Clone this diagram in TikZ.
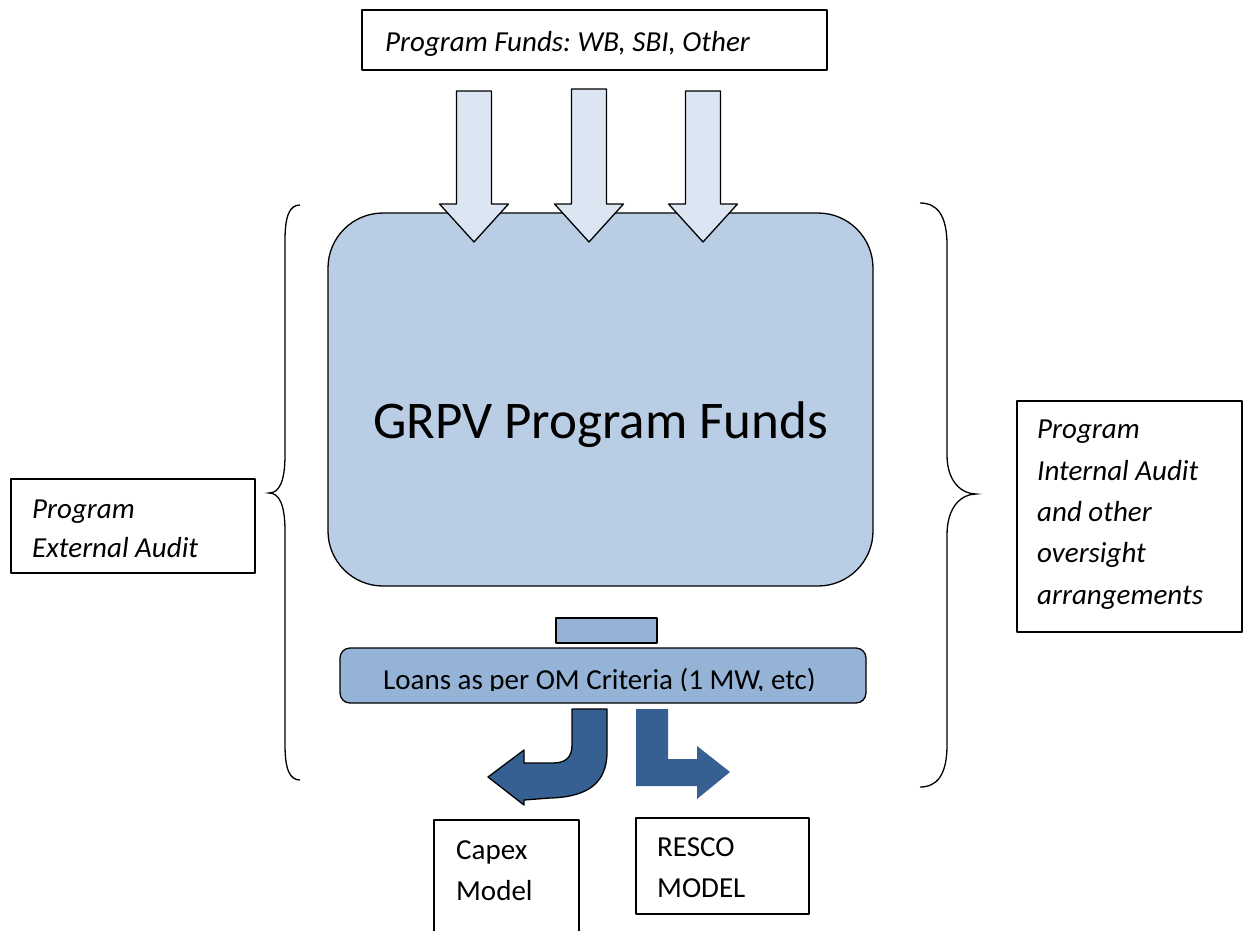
\documentclass[tikz,border=0pt]{standalone}
\usepackage{fontspec}
\setmainfont{Carlito}
\frenchspacing
\definecolor{fundblue}{HTML}{B9CDE5}
\definecolor{inflow}{HTML}{DCE6F2}
\definecolor{loanblue}{HTML}{95B3D7}
\definecolor{outflow}{HTML}{376092}
\tikzset{
  edge/.style={draw=black, line width=1.3pt, line join=round},
  panel/.style={edge, fill=white, rectangle, inner sep=0pt, outer sep=0pt, anchor=north west},
  lbl/.style={anchor=base west, inner sep=0pt, font=\fontsize{29}{35}\selectfont},
  lbli/.style={lbl, font=\fontsize{29}{35}\selectfont\itshape},
  brace/.style={draw=black, line width=1.3pt},
}
\begin{document}
\begin{tikzpicture}[x=1pt, y=-1pt]
\useasboundingbox (0,0) rectangle (1243,930);
\clip (0,0) rectangle (1243,930);

% source of funds
\node[panel, minimum width=465pt, minimum height=60pt] (src) at (362,10) {};
\node[lbli] (srctxt) at (385,51) {Program Funds: WB, SBI, Other};

% pooled program funds
\node[panel, fill=fundblue, minimum width=545pt, minimum height=373pt, rounded corners=55pt] (pool) at (328,213) {};
\node[anchor=base west, inner sep=0pt, font=\fontsize{53}{60}\selectfont] (pooltxt) at (373,438) {GRPV Program Funds};

% three inflow arrows
\foreach \cx/\top in {474/91, 589/89, 703/91}{
  \draw[edge, fill=inflow] (\cx-17.5,\top) -- (\cx+17.5,\top) -- (\cx+17.5,204) -- (\cx+34.5,204)
    -- (\cx,242) -- (\cx-34.5,204) -- (\cx-17.5,204) -- cycle;
}

% loan window
\node[panel, fill=loanblue, minimum width=101pt, minimum height=25pt] (tab) at (556,618) {};
\node[panel, fill=loanblue, minimum width=526pt, minimum height=55pt, rounded corners=10pt] (loans) at (340,648) {};
\begin{scope}
  \clip (340,640) rectangle (866,690.5);
  \node[lbl] (loanstxt) at (383,689) {Loans as per OM Criteria (1 MW, etc)};
\end{scope}

% outflow arrows
\draw[edge, fill=outflow] (572,709) -- (607,709) -- (607,752)
  .. controls (607,785) and (585,797) .. (550,798) -- (524,800) -- (524,805) -- (488,777)
  -- (524,750) -- (524,763) -- (553,763)
  .. controls (566,763) and (572,757) .. (572,745) -- cycle;
\fill[outflow] (636,709) -- (668,709) -- (668,759) -- (697,759) -- (697,746) -- (730,772)
  -- (697,799) -- (697,786) -- (636,786) -- cycle;

% delivery models
\node[panel, minimum width=145pt, minimum height=120pt] (capex) at (434,820) {};
\node[lbl] (capex1) at (456,859) {Capex};
\node[lbl] (capex2) at (456,900) {Model};
\node[panel, minimum width=173pt, minimum height=96pt] (resco) at (636,818) {};
\node[lbl] (resco1) at (657,856) {RESCO};
\node[lbl] (resco2) at (657,897) {MODEL};

% audit arrangements
\node[panel, minimum width=244pt, minimum height=94pt] (ext) at (11,479) {};
\node[lbli] (ext1) at (32,518) {Program};
\node[lbli] (ext2) at (32,557) {External Audit};
\node[panel, minimum width=225pt, minimum height=231pt] (int) at (1017,401) {};
\node[lbli] (int1) at (1037,438) {Program};
\node[lbli] (int2) at (1037,480) {Internal Audit};
\node[lbli] (int3) at (1037,521) {and other};
\node[lbli] (int4) at (1037,562) {oversight};
\node[lbli] (int5) at (1037,604) {arrangements};

% braces
\draw[brace] (300,205) .. controls (290,205) and (285,215) .. (285,240) -- (285,455)
  .. controls (285,482) and (279,493) .. (269,493)
  .. controls (279,493) and (285,504) .. (285,531) -- (285,745)
  .. controls (285,770) and (290,780) .. (300,780);
\draw[brace] (920,203) .. controls (937,203) and (947,215) .. (947,245) -- (947,455)
  .. controls (947,482) and (962,494) .. (976,494)
  .. controls (962,494) and (947,506) .. (947,535) -- (947,745)
  .. controls (947,775) and (937,787) .. (920,787);
\end{tikzpicture}
\end{document}
